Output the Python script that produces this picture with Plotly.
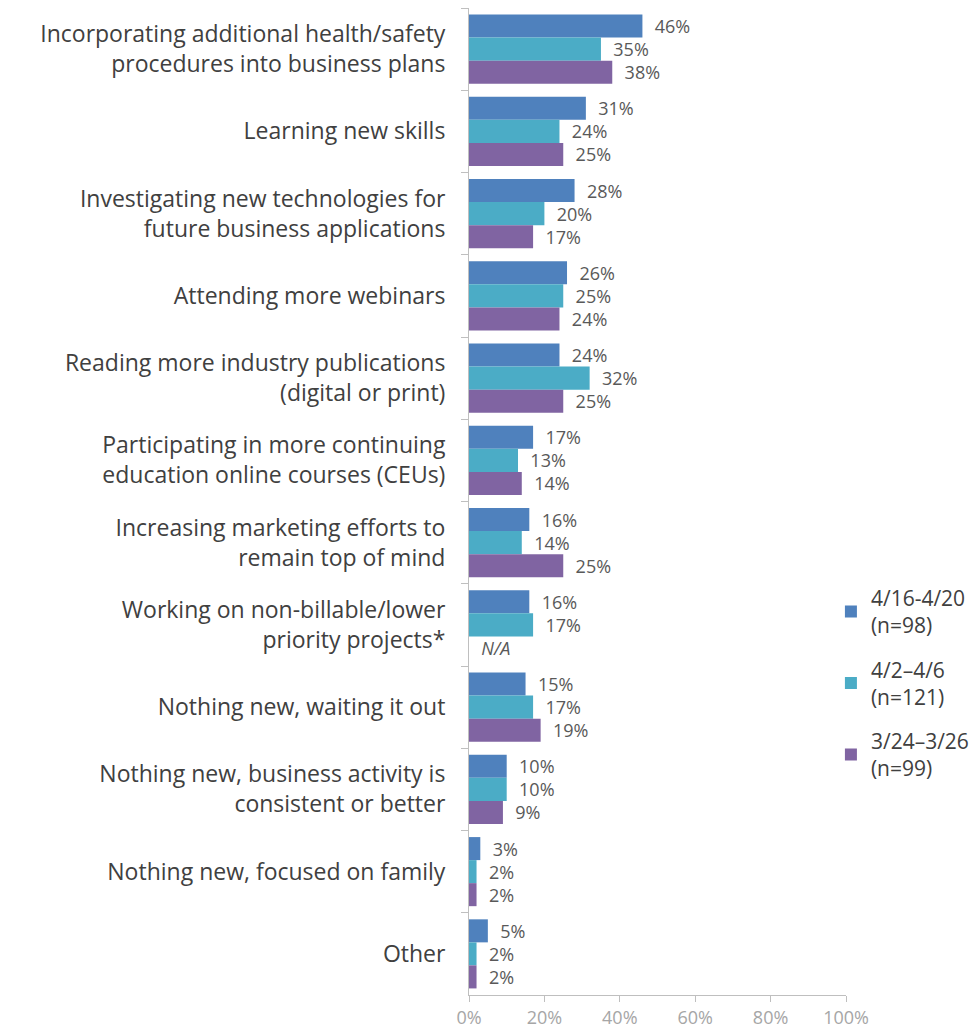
import plotly.graph_objects as go

categories = [
    "Incorporating additional health/safety<br>procedures into business plans",
    "Learning new skills",
    "Investigating new technologies for<br>future business applications",
    "Attending more webinars",
    "Reading more industry publications<br>(digital or print)",
    "Participating in more continuing<br>education online courses (CEUs)",
    "Increasing marketing efforts to<br>remain top of mind",
    "Working on non-billable/lower<br>priority projects*",
    "Nothing new, waiting it out",
    "Nothing new, business activity is<br>consistent or better",
    "Nothing new, focused on family",
    "Other",
]

wave_apr16 = [46, 31, 28, 26, 24, 17, 16, 16, 15, 10, 3, 5]
wave_apr2 = [35, 24, 20, 25, 32, 13, 14, 17, 17, 10, 2, 2]
wave_mar24 = [38, 25, 17, 24, 25, 14, 25, None, 19, 9, 2, 2]

series_names = ["4/16-4/20<br>(n=98)", "4/2–4/6<br>(n=121)", "3/24–3/26<br>(n=99)"]
series_colors = ["#4f81bd", "#4bacc6", "#8064a2"]

FONT = "Open Sans"
pad = "\u00a0\u00a0"

fig = go.Figure()
for name, vals, color in zip(series_names, [wave_apr16, wave_apr2, wave_mar24], series_colors):
    xs = [v / 100 if v is not None else 0 for v in vals]
    texts = [f"{pad}{v}%" if v is not None else f"{pad}<i>N/A</i>" for v in vals]
    fig.add_trace(go.Bar(
        y=categories,
        x=xs,
        orientation="h",
        name=name,
        legendgroup=name,
        marker=dict(color=color, line=dict(width=0)),
        text=texts,
        textposition="outside",
        constraintext="none",
        cliponaxis=False,
        textfont=dict(family=FONT, size=18, color="#595959"),
        hoverinfo="skip",
    ))

fig.update_layout(
    width=980,
    height=1034,
    barmode="group",
    bargap=0.16,
    bargroupgap=0,
    plot_bgcolor="white",
    paper_bgcolor="white",
    margin=dict(l=469, r=134, t=8, b=39, autoexpand=False),
    font=dict(family=FONT, color="#404040"),
    showlegend=True,
    legend=dict(
        x=0.96, xanchor="left",
        y=0.316, yanchor="middle",
        font=dict(family=FONT, size=21, color="#404040"),
        tracegroupgap=14,
        traceorder="grouped",
        itemwidth=30,
        bgcolor="rgba(0,0,0,0)",
    ),
)

fig.update_xaxes(
    range=[0, 1],
    tickformat=".0%",
    dtick=0.2,
    showgrid=False,
    zeroline=False,
    showline=True,
    linecolor="#bfbfbf",
    linewidth=1,
    ticks="outside",
    ticklen=6,
    tickcolor="#bfbfbf",
    tickfont=dict(family=FONT, size=18, color="#a6a6a6"),
)

fig.update_yaxes(
    autorange="reversed",
    showgrid=False,
    zeroline=False,
    showline=True,
    linecolor="#bfbfbf",
    linewidth=1,
    ticks="outside",
    tickson="boundaries",
    ticklen=7,
    tickcolor="#bfbfbf",
    ticklabelstandoff=18,
    tickfont=dict(family=FONT, size=23, color="#404040"),
)

fig.write_html("out.html")
